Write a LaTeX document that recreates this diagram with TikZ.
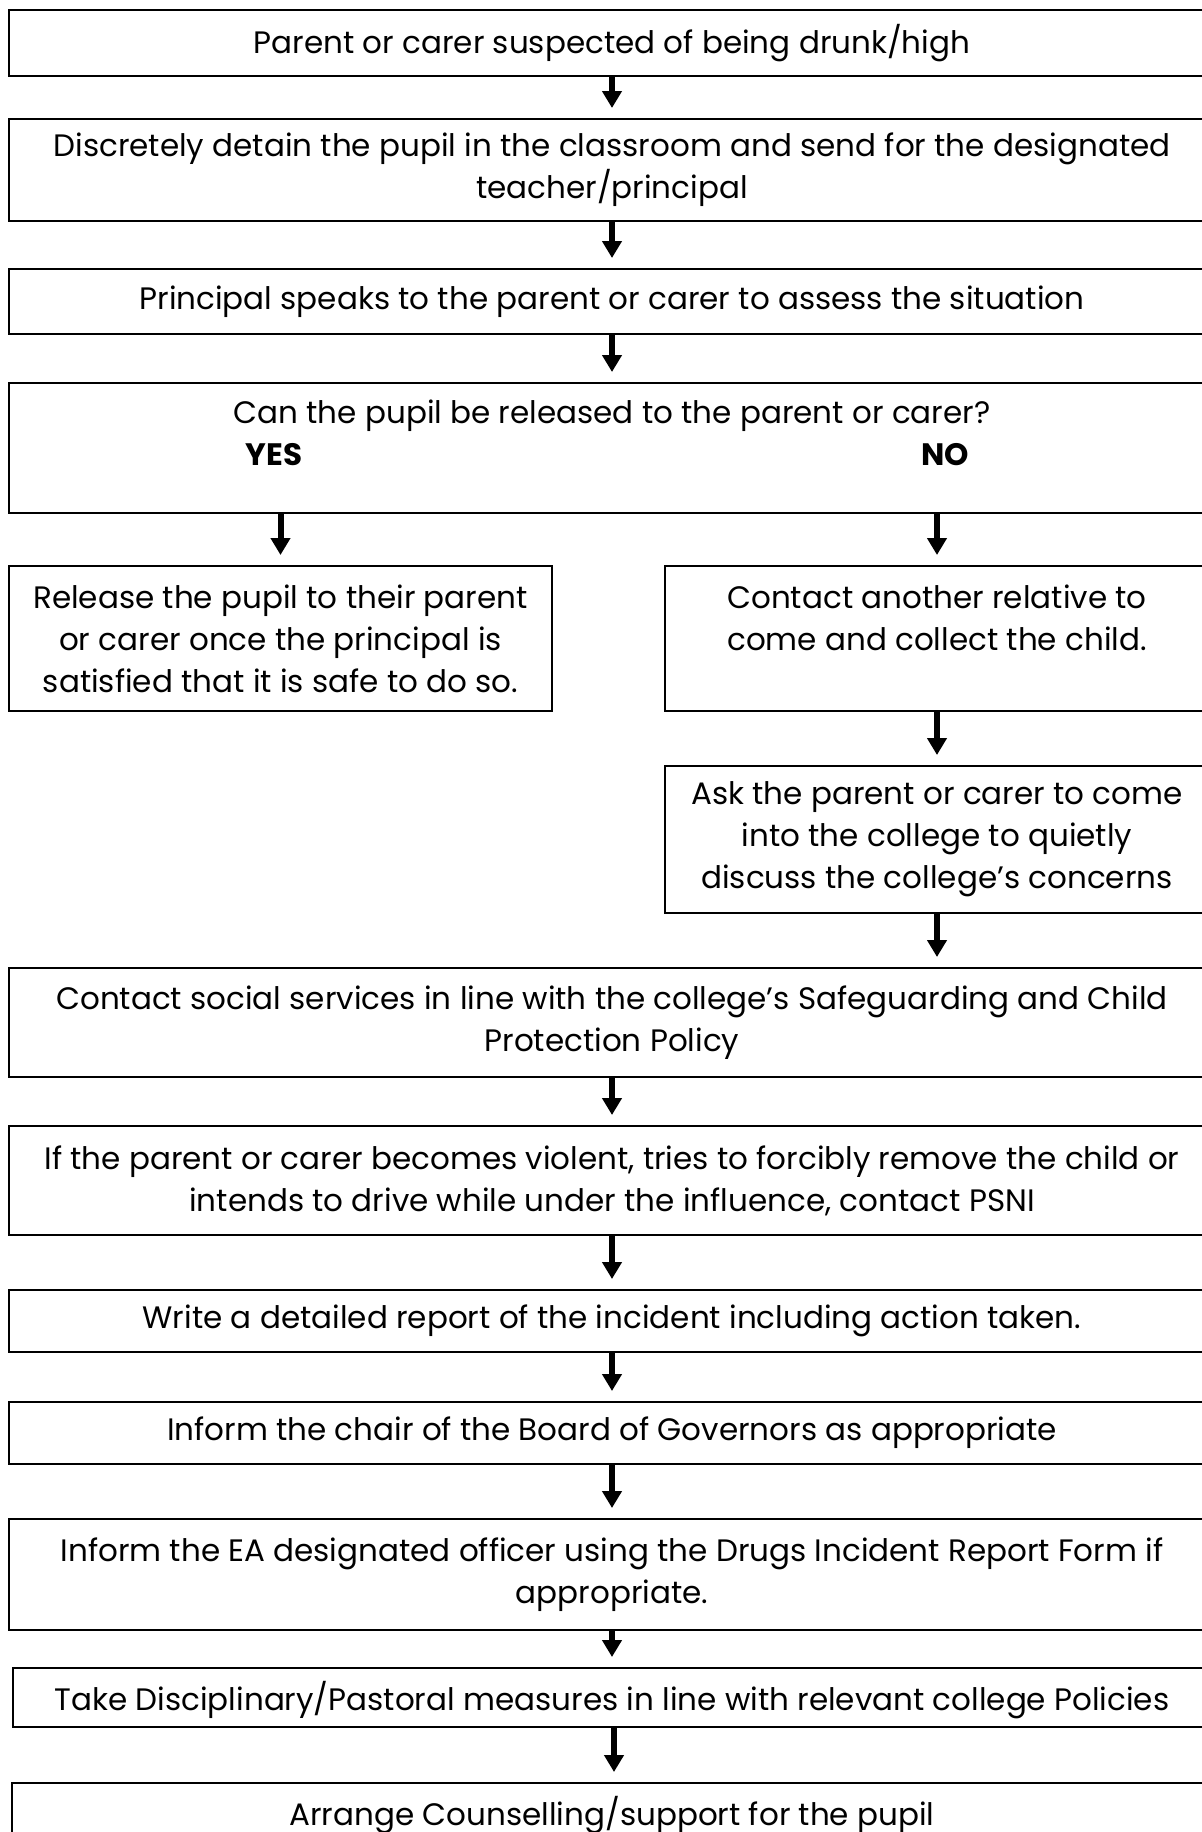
\documentclass[tikz,border=0pt]{standalone}
\usepackage{fontspec}
\setmainfont{Poppins}
\usetikzlibrary{arrows.meta}
\begin{document}
\begin{tikzpicture}[x=1pt,y=-1pt,
  box/.style={draw, line width=2.7pt, outer sep=0pt, inner sep=0pt, align=center,
    font=\fontsize{31}{42}\selectfont},
  wide/.style={box, minimum width=1206pt},
  txt/.style={inner sep=0pt, align=center, font=\fontsize{31}{42}\selectfont},
  arr/.style={line width=6pt, -{Triangle[width=19pt,length=17pt]}, shorten >=11pt}]
\useasboundingbox (0,0) rectangle (1202,1832);
\fill[white] (0,0) rectangle (1202,1832);
\clip (0,0) rectangle (1202,1832);

\node[wide, minimum height=66pt] (b1) at (612,43) {Parent or carer suspected of being drunk/high};
\node[wide, minimum height=102pt] (b2) at (612,170) {Discretely detain the pupil in the classroom and send for the designated\\teacher/principal};
\node[wide, minimum height=65pt] (b3) at (612,301.5) {Principal speaks to the parent or carer to assess the situation};
\node[wide, minimum height=130pt] (b4) at (612,448) {};
\node[txt] (q) at (612,416) {Can the pupil be released to the parent or carer?};
\node[txt, font=\fontsize{31}{42}\selectfont\bfseries] (yes) at (274,455) {YES};
\node[txt, font=\fontsize{31}{42}\selectfont\bfseries] (no) at (945,455) {NO};
\node[box, minimum width=543pt, minimum height=145pt] (b5) at (280.5,638.5) {Release the pupil to their parent\\or carer once the principal is\\satisfied that it is safe to do so.};
\node[box, minimum width=544pt, minimum height=145pt] (b6) at (937,638.5) {};
\node[txt] (t6) at (937,618) {Contact another relative to\\come and collect the child.};
\node[box, minimum width=544pt, minimum height=147pt] (b7) at (937,839.5) {Ask the parent or carer to come\\into the college to quietly\\discuss the college's concerns};
\node[wide, minimum height=109pt] (b8) at (612,1022.5) {Contact social services in line with the college's Safeguarding and Child\\Protection Policy};
\node[wide, minimum height=109pt] (b9) at (612,1180.5) {If the parent or carer becomes violent, tries to forcibly remove the child or\\intends to drive while under the influence, contact PSNI};
\node[wide, minimum height=62pt] (b10) at (612,1321) {Write a detailed report of the incident including action taken.};
\node[wide, minimum height=62pt] (b11) at (612,1433) {Inform the chair of the Board of Governors as appropriate};
\node[wide, minimum height=111pt] (b12) at (612,1574.5) {Inform the EA designated officer using the Drugs Incident Report Form if\\appropriate.};
\node[box, minimum width=1202pt, minimum height=59pt] (b13) at (614,1697.5) {};
\node[txt] (t13) at (612,1700) {Take Disciplinary/Pastoral measures in line with relevant college Policies};
\node[box, minimum width=1203pt, minimum height=110pt] (b14) at (613.5,1838) {};
\node[txt] (t14) at (612,1815) {Arrange Counselling/support for the pupil};

\draw[arr] (b1.south) -- (b2.north);
\draw[arr] (b2.south) -- (b3.north);
\draw[arr] (b3.south) -- (b4.north);
\draw[arr] (b4.south -| b5.north) -- (b5.north);
\draw[arr] (b4.south -| b6.north) -- (b6.north);
\draw[arr] (b6.south) -- (b7.north);
\draw[arr] (b7.south) -- (b7.south |- b8.north);
\draw[arr] (b8.south) -- (b9.north);
\draw[arr] (b9.south) -- (b10.north);
\draw[arr] (b10.south) -- (b11.north);
\draw[arr] (b11.south) -- (b12.north);
\draw[arr] (b12.south) -- (b12.south |- b13.north);
\draw[arr] (b13.south) -- (b13.south |- b14.north);
\end{tikzpicture}
\end{document}
